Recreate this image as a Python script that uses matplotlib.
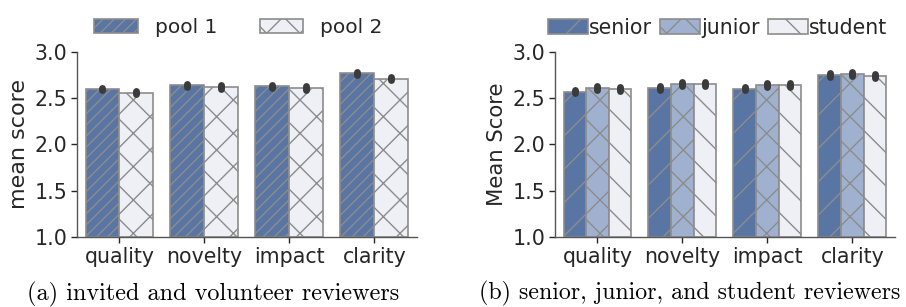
import numpy as np
import matplotlib.pyplot as plt
from matplotlib.patches import Patch

# Данные
categories = ["quality", "novelty", "impact", "clarity"]

pool_labels = ["pool 1", "pool 2"]
pool1 = [2.60, 2.64, 2.63, 2.77]
pool2 = [2.56, 2.62, 2.61, 2.71]
pool1_err = [0.015, 0.015, 0.015, 0.015]
pool2_err = [0.018, 0.018, 0.018, 0.018]

level_labels = ["senior", "junior", "student"]
senior = [2.57, 2.61, 2.60, 2.75]
junior = [2.61, 2.65, 2.64, 2.76]
student = [2.60, 2.65, 2.64, 2.74]
senior_err = [0.017, 0.017, 0.017, 0.02]
junior_err = [0.022, 0.022, 0.022, 0.025]
student_err = [0.02, 0.02, 0.02, 0.022]

# Стиль
plt.rcParams['hatch.color'] = '#808080'
plt.rcParams['hatch.linewidth'] = 1.0
text_color = '#262626'
plt.rcParams['text.color'] = text_color
plt.rcParams['axes.labelcolor'] = text_color

dark = '#5975a4'
mid = '#a0b1cf'
light = '#eef0f5'
edge = '#8c8c8c'
err_color = '#3b3b3b'


def draw(ax, series, errs, colors, hatches, ylabel, label_fs):
    n = len(series)
    x = np.arange(len(categories))
    w = 0.8 / n
    for i, (vals, e) in enumerate(zip(series, errs)):
        pos = x - 0.4 + w * (i + 0.5)
        ax.bar(pos, np.array(vals) - 1.0, bottom=1.0, width=w, color=colors[i],
               edgecolor=edge, linewidth=1.2, hatch=hatches[i])
        for p, v, d in zip(pos, vals, e):
            ax.plot([p, p], [v - d, v + d], color=err_color, lw=5,
                    solid_capstyle='round', zorder=5)
    ax.set_xlim(-0.5, 3.5)
    ax.set_ylim(1.0, 3.0)
    ax.set_yticks([1.0, 1.5, 2.0, 2.5, 3.0])
    ax.set_xticks(x)
    ax.set_xticklabels(categories)
    ax.tick_params(labelsize=14.8, length=4, width=1, colors=text_color,
                   pad=3)
    for s in ['top', 'right']:
        ax.spines[s].set_visible(False)
    for s in ['left', 'bottom']:
        ax.spines[s].set_color('#555555')
        ax.spines[s].set_linewidth(1.0)
    ax.set_ylabel(ylabel, fontsize=label_fs, labelpad=4)
    handles = [Patch(facecolor=c, edgecolor=edge, hatch=h, linewidth=1.2)
               for c, h in zip(colors, hatches)]
    return handles


fig = plt.figure(figsize=(9.06, 3.07), dpi=100)
ax1 = fig.add_axes([0.085, 0.228, 0.375, 0.603])
ax2 = fig.add_axes([0.6126, 0.228, 0.375, 0.603])

h1 = draw(ax1, [pool1, pool2], [pool1_err, pool2_err], [dark, light],
          ['///', 'x'], "mean score", 16)
ax1.legend(h1, pool_labels, loc='center', bbox_to_anchor=(0.475, 1.13),
           ncol=2, frameon=False, fontsize=14.5, handlelength=2.15,
           handleheight=0.7, handletextpad=0.85, columnspacing=2.1,
           borderaxespad=0, borderpad=0)

h2 = draw(ax2, [senior, junior, student], [senior_err, junior_err, student_err],
          [dark, mid, light], ['/', 'x', '\\'], "Mean Score", 15.3)
ax2.legend(h2, level_labels, loc='center', bbox_to_anchor=(0.479, 1.13),
           ncol=3, frameon=False, fontsize=14.8, handlelength=1.95,
           handleheight=0.7, handletextpad=0.05, columnspacing=0.4,
           borderaxespad=0, borderpad=0)

fig.text(0.235, 0.023, "(a) invited and volunteer reviewers", ha='center',
         va='baseline', fontsize=17.5, family='cmr10', color='black')
fig.text(0.7615, 0.023, "(b) senior, junior, and student reviewers", ha='center',
         va='baseline', fontsize=17.2, family='cmr10', color='black')

fig.savefig("out.png", dpi=100)
